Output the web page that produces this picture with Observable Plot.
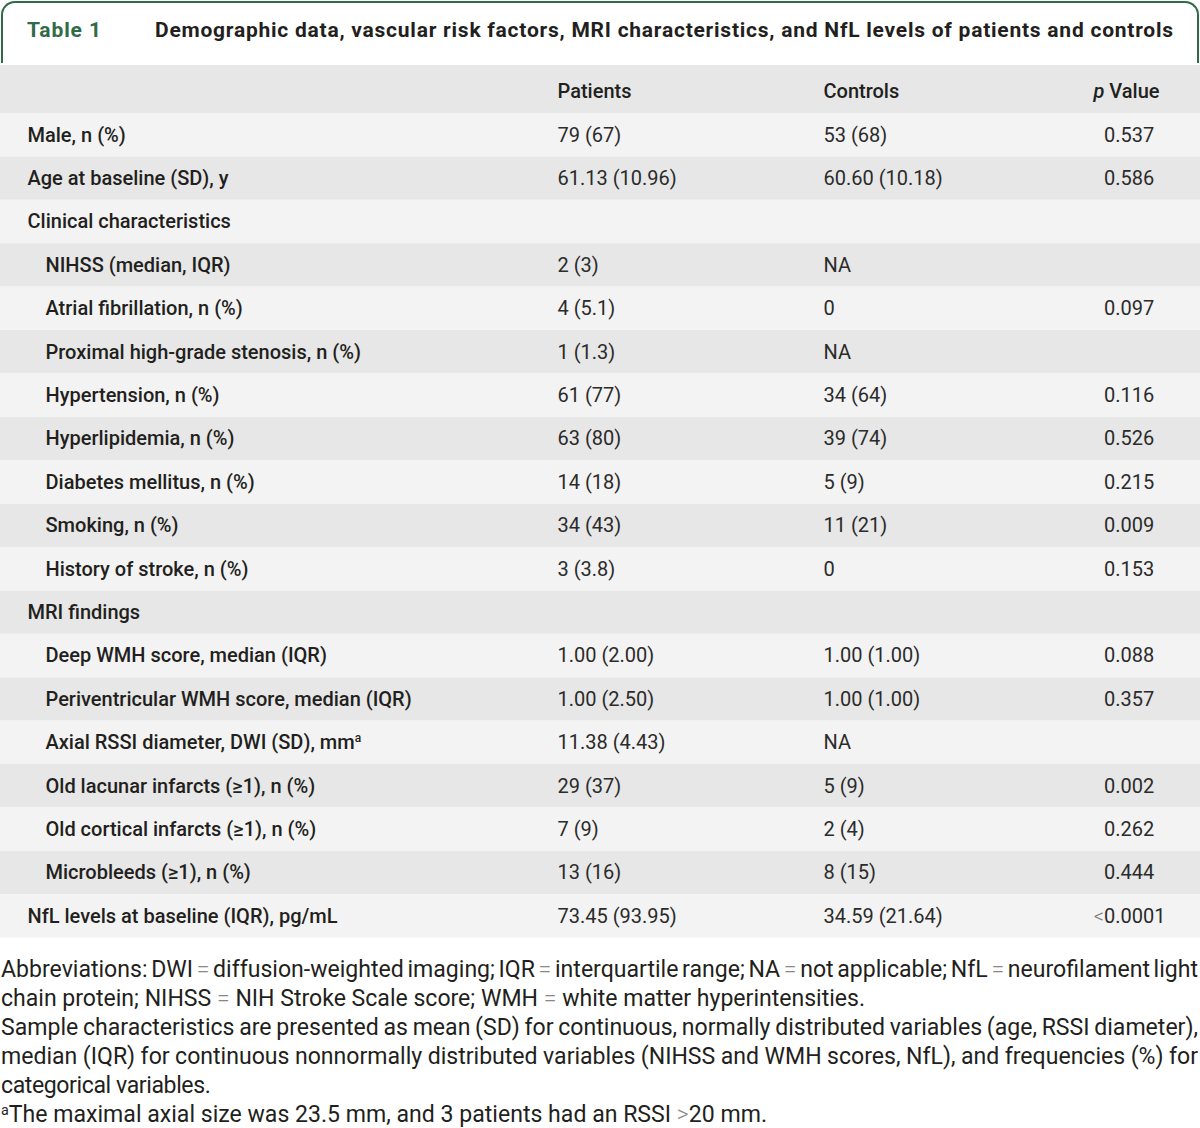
<!DOCTYPE html>
<html>
<head>
<meta charset="utf-8">
<script src="https://cdn.jsdelivr.net/npm/d3@7"></script>
<script src="https://cdn.jsdelivr.net/npm/@observablehq/plot@0.6"></script>
<style>
  html, body { margin: 0; padding: 0; background: #fff; }
  body { font-family: Roboto, "Liberation Sans", sans-serif; color: #231f20; width: 1200px; }
  svg { display: block; }
  #title { box-sizing: border-box; margin: 1px 0 0 1px; width: 1198px; height: 62px;
           border: 2px solid #2f6b48; border-bottom: none; border-radius: 14px 14px 0 0; position: relative; }
  #title span { position: absolute; top: 0; height: 54px; line-height: 54px; white-space: nowrap; font-weight: 700; }
  #tnum { left: 24px; color: #2f6b48; }
  #ttext { left: 152px; color: #231f20; }
  #chart { margin-top: 2px; }
  #notes { padding-top: 17px; margin-left: 1px; width: 1197px; line-height: 29px; color: #231f20; font-size: 20px; }
  #notes div { white-space: nowrap; height: 29px; }
  #notes span.m { display: inline-block; }
  #notes .eq { color: #888; font-weight: 300; }
  #notes sup { font-size: 62%; vertical-align: 0.5em; line-height: 0; }
</style>
</head>
<body>
<div id="title"><span id="tnum"></span><span id="ttext"></span></div>
<div id="chart"></div>
<div id="notes"></div>
<script>
// ---- data ----
const tableNumber = "Table 1";
const tableTitle = "Demographic data, vascular risk factors, MRI characteristics, and NfL levels of patients and controls";
const columnHeaders = ["Patients", "Controls", "p Value"];
const labels = [
  "Male, n (%)",
  "Age at baseline (SD), y",
  "Clinical characteristics",
  "NIHSS (median, IQR)",
  "Atrial fibrillation, n (%)",
  "Proximal high-grade stenosis, n (%)",
  "Hypertension, n (%)",
  "Hyperlipidemia, n (%)",
  "Diabetes mellitus, n (%)",
  "Smoking, n (%)",
  "History of stroke, n (%)",
  "MRI findings",
  "Deep WMH score, median (IQR)",
  "Periventricular WMH score, median (IQR)",
  "Axial RSSI diameter, DWI (SD), mm^a",
  "Old lacunar infarcts (≥1), n (%)",
  "Old cortical infarcts (≥1), n (%)",
  "Microbleeds (≥1), n (%)",
  "NfL levels at baseline (IQR), pg/mL"
];
const levels = [0,0,0,1,1,1,1,1,1,1,1,0,1,1,1,1,1,1,0];
const patients = ["79 (67)","61.13 (10.96)","","2 (3)","4 (5.1)","1 (1.3)","61 (77)","63 (80)","14 (18)","34 (43)","3 (3.8)","","1.00 (2.00)","1.00 (2.50)","11.38 (4.43)","29 (37)","7 (9)","13 (16)","73.45 (93.95)"];
const controls = ["53 (68)","60.60 (10.18)","","NA","0","NA","34 (64)","39 (74)","5 (9)","11 (21)","0","","1.00 (1.00)","1.00 (1.00)","NA","5 (9)","2 (4)","8 (15)","34.59 (21.64)"];
const pValues = ["0.537","0.586","","","0.097","","0.116","0.526","0.215","0.009","0.153","","0.088","0.357","","0.002","0.262","0.444","<0.0001"];
// each footnote line: text, justified?, right edge of a non-justified line
const footnoteLines = [
  ["Abbreviations: DWI = diffusion-weighted imaging; IQR = interquartile range; NA = not applicable; NfL = neurofilament light", true, 0],
  ["chain protein; NIHSS = NIH Stroke Scale score; WMH = white matter hyperintensities.", false, 865],
  ["Sample characteristics are presented as mean (SD) for continuous, normally distributed variables (age, RSSI diameter),", true, 0],
  ["median (IQR) for continuous nonnormally distributed variables (NIHSS and WMH scores, NfL), and frequencies (%) for", true, 0],
  ["categorical variables.", false, 210],
  ["^aThe maximal axial size was 23.5 mm, and 3 patients had an RSSI >20 mm.", false, 767]
];

// ---- layout ----
const W = 1200, headH = 48, rowH = 43.4;
const H = Math.round(headH + labels.length * rowH);
const col = {label: 27, indent: 45, patients: 557, controls: 823, pDec: 1120, pEnd: 1159};
const labelSize = 20, valueSize = 20, titleSize = 21;
const labelStretch = 1.016, valueStretch = 1.065; // horizontal widening to match the reference face

// title
const tn = document.getElementById("tnum"), tt = document.getElementById("ttext");
tn.textContent = tableNumber; tt.textContent = tableTitle;
tn.style.fontSize = tt.style.fontSize = titleSize + "px";
function fitSpan(el, target) {
  const w = el.getBoundingClientRect().width;
  el.style.letterSpacing = ((target - w) / (el.textContent.length - 1)) + "px";
}
fitSpan(tt, 1018);
fitSpan(tn, 74);

// rows
const rows = labels.map((label, i) => {
  const p = pValues[i];
  const k = p.indexOf(".");
  return {
    i, label, level: levels[i], patients: patients[i], controls: controls[i],
    pLeft: k >= 0 ? p.slice(0, k + 1) : p, pRight: k >= 0 ? p.slice(k + 1) : "",
    y1: headH + i * rowH, y2: headH + (i + 1) * rowH, ym: headH + (i + 0.5) * rowH
  };
});
const header = [{y1: 0, y2: headH}];
const darkBands = header.concat(rows.filter(r => r.i % 2 === 1));
const lightBands = rows.filter(r => r.i % 2 === 0);
const headStart = [{text: columnHeaders[0], x: col.patients}, {text: columnHeaders[1], x: col.controls}];
const headEnd = [{text: columnHeaders[2], x: col.pEnd}];

const labStyle = {fontSize: labelSize, fontWeight: 500, fill: "#231f20"};
const valStyle = {fontSize: valueSize, fill: "#2b2b2b"};
const plot = Plot.plot({
  width: W, height: H, margin: 0,
  style: {fontFamily: "Roboto", background: "transparent"},
  x: {domain: [0, W], range: [0, W], axis: null},
  y: {domain: [0, H], range: [0, H], axis: null},
  marks: [
    Plot.rect(darkBands, {x1: 0, x2: W, y1: "y1", y2: "y2", fill: "#e6e7e6"}),
    Plot.rect(lightBands, {x1: 0, x2: W, y1: "y1", y2: "y2", fill: "#f3f3f3"}),
    Plot.text(headStart, {ariaLabel: "lab", x: "x", y: headH / 2, dy: 2, text: "text", textAnchor: "start", ...labStyle}),
    Plot.text(headEnd, {ariaLabel: "lab", x: "x", y: headH / 2, dy: 2, text: "text", textAnchor: "end", ...labStyle}),
    Plot.text(rows, {ariaLabel: "lab", x: d => d.level ? col.indent : col.label, y: "ym", text: "label", textAnchor: "start", ...labStyle}),
    Plot.text(rows, {ariaLabel: "val", x: col.patients, y: "ym", text: "patients", textAnchor: "start", ...valStyle}),
    Plot.text(rows, {ariaLabel: "val", x: col.controls, y: "ym", text: "controls", textAnchor: "start", ...valStyle}),
    Plot.text(rows, {ariaLabel: "val", x: col.pDec, y: "ym", text: "pLeft", textAnchor: "end", ...valStyle}),
    Plot.text(rows, {ariaLabel: "val", x: col.pDec, y: "ym", text: "pRight", textAnchor: "start", ...valStyle})
  ]
});
document.getElementById("chart").appendChild(plot);

// widen table texts about their anchor
function applyScale(t, s) {
  const tr = t.getAttribute("transform");
  if (tr) {
    t.setAttribute("transform", tr + ` scale(${s},1)`);
  } else {
    const x = +(t.getAttribute("x") || 0), y = +(t.getAttribute("y") || 0);
    t.setAttribute("x", 0); t.setAttribute("y", 0);
    t.setAttribute("transform", `translate(${x},${y}) scale(${s},1)`);
  }
}
plot.querySelectorAll('g[aria-label="lab"] text').forEach(t => applyScale(t, labelStretch));
plot.querySelectorAll('g[aria-label="val"] text').forEach(t => applyScale(t, valueStretch));

const NS = "http://www.w3.org/2000/svg";
plot.querySelectorAll("text").forEach(t => {
  const s = t.textContent;
  if (s.endsWith("^a")) {
    t.textContent = s.slice(0, -2);
    const ts = document.createElementNS(NS, "tspan");
    ts.setAttribute("font-size", "12"); ts.setAttribute("dy", "-7"); ts.textContent = "a";
    t.appendChild(ts);
  } else if (s === "p Value") {
    t.textContent = "";
    const a = document.createElementNS(NS, "tspan");
    a.setAttribute("font-style", "italic"); a.textContent = "p";
    t.appendChild(a); t.appendChild(document.createTextNode(" Value"));
  } else if (s.startsWith("<")) {
    t.textContent = "";
    const a = document.createElementNS(NS, "tspan");
    a.setAttribute("fill", "#777"); a.setAttribute("font-weight", "300"); a.textContent = "<";
    t.appendChild(a); t.appendChild(document.createTextNode(s.slice(1)));
  }
});

// footnotes: font size from the reference's second line, then per-line spacing
const notes = document.getElementById("notes");
function esc(s) { return s.replace(/&/g, "&amp;").replace(/</g, "&lt;").replace(/>/g, "&gt;"); }
const noteEls = footnoteLines.map(([line]) => {
  const d = document.createElement("div");
  const html = esc(line)
    .replace(/ = /g, ' <span class="eq">=</span> ')
    .replace(/ &gt;/g, ' <span class="eq">&gt;</span>')
    .replace("^a", "<sup>a</sup>");
  d.innerHTML = '<span class="m">' + html + "</span>";
  notes.appendChild(d);
  return d.firstChild;
});
const w2 = noteEls[1].getBoundingClientRect().width;
notes.style.fontSize = (20 * footnoteLines[1][2] / w2).toFixed(2) + "px";
footnoteLines.forEach(([line, just, target], i) => {
  const m = noteEls[i];
  const w = m.getBoundingClientRect().width;
  if (just) {
    const n = (line.match(/ /g) || []).length;
    m.style.wordSpacing = ((1197 - w) / n) + "px";
  } else {
    const ls = Math.max(-0.4, Math.min(0.6, (target - 1 - w) / (line.length - 1)));
    m.style.letterSpacing = ls + "px";
  }
});
</script>
</body>
</html>
